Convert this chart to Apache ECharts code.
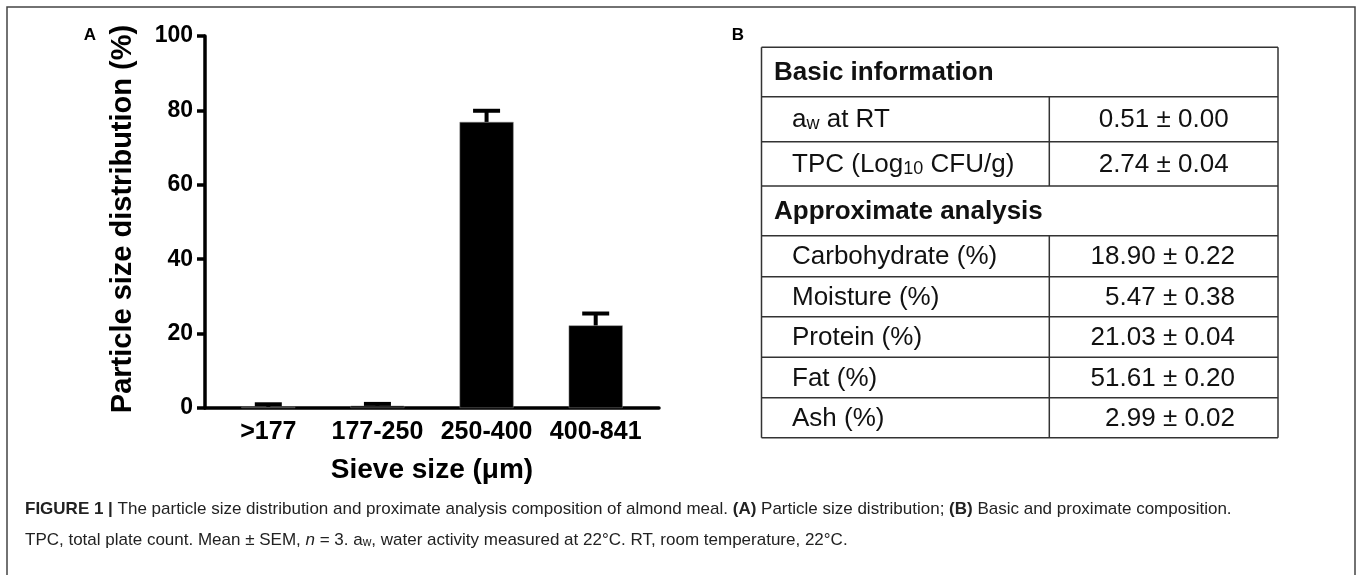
<!DOCTYPE html>
<html>
<head>
<meta charset="utf-8">
<script src="https://cdn.jsdelivr.net/npm/echarts@6/dist/echarts.min.js"></script>
<style>
html,body{margin:0;padding:0;background:#fff;}
#chart{width:1357px;height:575px;}
</style>
</head>
<body>
<div id="chart"></div>
<script>
// ---- data ----
const categories = ['>177', '177-250', '250-400', '400-841'];
const means = [0.3, 0.6, 76.9, 22.2];
const sems = [0.7, 0.5, 3.0, 3.2];
const yTickValues = [0, 20, 40, 60, 80, 100];

const basicTitle = 'Basic information';
const basicLabels = ['a{sw|w} at RT', 'TPC (Log{s10|10} CFU/g)'];
const basicValues = ['0.51 ± 0.00', '2.74 ± 0.04'];
const proxTitle = 'Approximate analysis';
const proxLabels = ['Carbohydrate (%)', 'Moisture (%)', 'Protein (%)', 'Fat (%)', 'Ash (%)'];
const proxValues = ['18.90 ± 0.22', '5.47 ± 0.38', '21.03 ± 0.04', '51.61 ± 0.20', '2.99 ± 0.02'];

const captionLine1 = '{b|FIGURE 1 |} The particle size distribution and proximate analysis composition of almond meal. {b|(A)} Particle size distribution; {b|(B)} Basic and proximate composition.';
const captionLine2 = 'TPC, total plate count. Mean ± SEM, {i|n} = 3. a{sub|w}, water activity measured at 22°C. RT, room temperature, 22°C.';

// ---- chart ----
const FONT = '"Liberation Sans", Arial, Helvetica, sans-serif';
const chart = echarts.init(document.getElementById('chart'), null, {renderer: 'canvas'});

const barData = categories.map((c, i) => [i, means[i]]);
const errData = categories.map((c, i) => [i, means[i], sems[i]]);

// table layout
const tX0 = 761.5, tX1 = 1278, tDiv = 1049.3;
const rowLines = [47.3, 96.7, 141.7, 186, 235.7, 276.7, 316.7, 357.3, 397.7, 437.7];
const lineStyle = {stroke: '#333', lineWidth: 1.5};
const tableEls = [];
function hline(y) {
  tableEls.push({type: 'line', shape: {x1: tX0, y1: y, x2: tX1, y2: y}, style: lineStyle, silent: true});
}
rowLines.forEach(hline);
tableEls.push({type: 'line', shape: {x1: tX0, y1: rowLines[0], x2: tX0, y2: rowLines[9]}, style: lineStyle});
tableEls.push({type: 'line', shape: {x1: tX1, y1: rowLines[0], x2: tX1, y2: rowLines[9]}, style: lineStyle});
tableEls.push({type: 'line', shape: {x1: tDiv, y1: rowLines[1], x2: tDiv, y2: rowLines[3]}, style: lineStyle});
tableEls.push({type: 'line', shape: {x1: tDiv, y1: rowLines[4], x2: tDiv, y2: rowLines[9]}, style: lineStyle});

const richSub = {
  sw: {fontSize: 18, fontFamily: FONT, fill: '#111', verticalAlign: 'bottom'},
  s10: {fontSize: 18, fontFamily: FONT, fill: '#111', verticalAlign: 'bottom'}
};
function headerText(txt, yc) {
  tableEls.push({type: 'text', x: 774, y: yc, style: {text: txt, font: 'bold 26px ' + FONT, fill: '#111', textAlign: 'left', textVerticalAlign: 'middle'}});
}
function rowText(label, value, yc, alignRight) {
  tableEls.push({type: 'text', x: 792, y: yc, style: {text: label, font: '26px ' + FONT, fontSize: 26, fontFamily: FONT, fill: '#111', textAlign: 'left', textVerticalAlign: 'middle', rich: richSub}});
  tableEls.push({type: 'text', x: alignRight ? 1235 : (tDiv + tX1) / 2, y: yc, style: {text: value, font: '26px ' + FONT, fill: '#111', textAlign: alignRight ? 'right' : 'center', textVerticalAlign: 'middle'}});
}
headerText(basicTitle, (rowLines[0] + rowLines[1]) / 2 + 1);
basicLabels.forEach((l, i) => rowText(l, basicValues[i], (rowLines[1 + i] + rowLines[2 + i]) / 2 + 1, false));
headerText(proxTitle, (rowLines[3] + rowLines[4]) / 2 + 1);
proxLabels.forEach((l, i) => rowText(l, proxValues[i], (rowLines[4 + i] + rowLines[5 + i]) / 2 + 1, true));

const capFont = '"Liberation Sans", Arial, sans-serif';
const capRich = {
  b: {fontWeight: 'bold', fontSize: 17, fontFamily: capFont, fill: '#222'},
  i: {fontStyle: 'italic', fontSize: 17, fontFamily: capFont, fill: '#222'},
  sub: {fontSize: 12, fontFamily: capFont, fill: '#222', verticalAlign: 'bottom'}
};

const option = {
  animation: false,
  backgroundColor: '#fff',
  textStyle: {fontFamily: FONT},
  grid: {left: 205, top: 36, width: 454, height: 372, containLabel: false},
  xAxis: {
    type: 'value',
    min: -0.58,
    max: 3.58,
    splitLine: {show: false},
    axisLine: {show: true, onZero: false, lineStyle: {color: '#000', width: 3.5}},
    axisTick: {show: false},
    axisLabel: {
      customValues: [0, 1, 2, 3],
      formatter: v => categories[Math.round(v)] || '',
      color: '#000', fontWeight: 'bold', fontSize: 25, fontFamily: FONT, margin: 12
    },
    name: 'Sieve size (μm)',
    nameLocation: 'middle',
    nameGap: 48,
    nameTextStyle: {color: '#000', fontWeight: 'bold', fontSize: 28, fontFamily: FONT}
  },
  yAxis: {
    type: 'value',
    min: 0,
    max: 100,
    interval: 20,
    splitLine: {show: false},
    axisLine: {show: true, onZero: false, lineStyle: {color: '#000', width: 3.5}},
    axisTick: {show: true, length: 8, lineStyle: {color: '#000', width: 3.5}},
    axisLabel: {
      color: '#000', fontWeight: 'bold', fontSize: 23, fontFamily: FONT, margin: 12,
      formatter: v => yTickValues.indexOf(v) >= 0 ? String(v) : ''
    },
    name: 'Particle size distribution (%)',
    nameLocation: 'middle',
    nameGap: 68,
    nameTextStyle: {color: '#000', fontWeight: 'bold', fontSize: 29, fontFamily: FONT, padding: [0, 0, 0, 6]}
  },
  series: [
    {
      type: 'bar',
      data: barData,
      barWidth: 54,
      itemStyle: {color: '#000', borderColor: '#888', borderWidth: 0.5},
      z: 2
    },
    {
      type: 'custom',
      data: errData,
      z: 3,
      renderItem: function (params, api) {
        const x = api.value(0), m = api.value(1), e = api.value(2);
        const p0 = api.coord([x, m]);
        const p1 = api.coord([x, m + e]);
        return {
          type: 'group',
          children: [
            {type: 'line', shape: {x1: p0[0], y1: p0[1], x2: p1[0], y2: p1[1]}, style: {stroke: '#000', lineWidth: 4}},
            {type: 'line', shape: {x1: p1[0] - 13.5, y1: p1[1], x2: p1[0] + 13.5, y2: p1[1]}, style: {stroke: '#000', lineWidth: 4}}
          ]
        };
      }
    }
  ],
  graphic: [
    {type: 'rect', shape: {x: 7, y: 7, width: 1348, height: 620}, style: {fill: 'none', stroke: '#444', lineWidth: 1.5}, silent: true},
    {type: 'text', x: 90, y: 35, style: {text: 'A', font: 'bold 17px ' + FONT, fill: '#000', textAlign: 'center', textVerticalAlign: 'middle'}},
    {type: 'text', x: 738, y: 35, style: {text: 'B', font: 'bold 17px ' + FONT, fill: '#000', textAlign: 'center', textVerticalAlign: 'middle'}},
    {type: 'group', children: tableEls},
    {type: 'text', x: 25, y: 509, style: {text: captionLine1, fontSize: 17, fontFamily: capFont, fill: '#222', textAlign: 'left', textVerticalAlign: 'middle', rich: capRich}},
    {type: 'text', x: 25, y: 540, style: {text: captionLine2, fontSize: 17, fontFamily: capFont, fill: '#222', textAlign: 'left', textVerticalAlign: 'middle', rich: capRich}}
  ]
};
chart.setOption(option);
</script>
</body>
</html>
